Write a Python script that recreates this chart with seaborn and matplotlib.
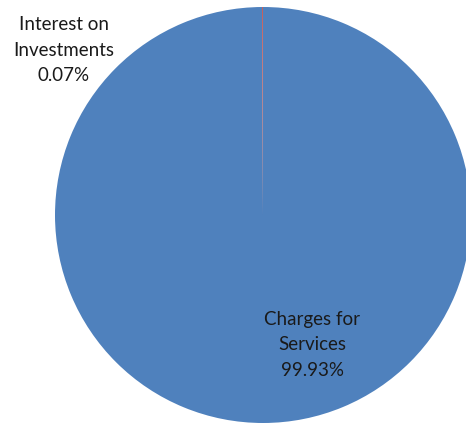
import matplotlib
matplotlib.use("Agg")
import matplotlib.pyplot as plt
import seaborn as sns

categories = ["Charges for\nServices", "Interest on\nInvestments"]
values = [99.93, 0.07]
colors = ["#4F81BD", "#C0504D"]

sns.set_theme(style="white")
plt.rcParams['font.family'] = ['Lato', 'DejaVu Sans']

fig = plt.figure(figsize=(4.66, 4.26), dpi=100)
ax = fig.add_axes([0, 0, 1, 1])
ax.pie(values, colors=colors, startangle=90, counterclock=False,
       center=(263, 211), radius=208,
       wedgeprops=dict(linewidth=0, antialiased=True))
ax.set_xlim(0, 466)
ax.set_ylim(0, 426)
ax.set_aspect('equal')
ax.axis('off')

label_pos = [(312, 426 - 345), (64, 426 - 50)]
for cat, val, (x, y) in zip(categories, values, label_pos):
    ax.text(x, y, f"{cat}\n{val:.2f}%", ha='center', va='center',
            fontsize=13.5, color='#1a1a1a', linespacing=1.6)

fig.savefig("out.png", dpi=100)
